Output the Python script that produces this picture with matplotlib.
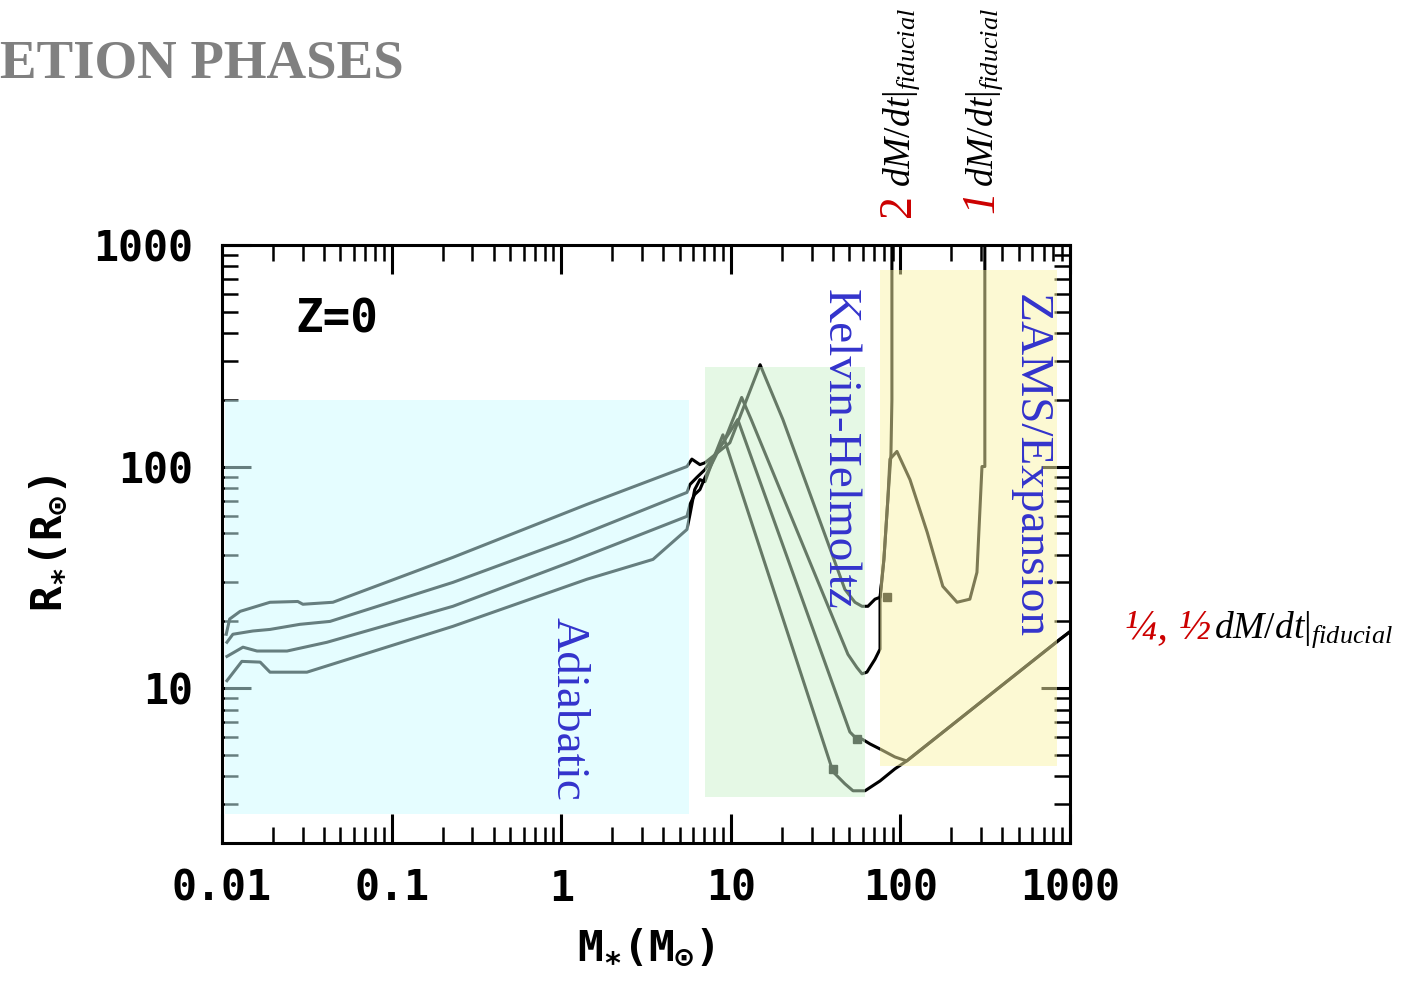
import matplotlib
matplotlib.use("Agg")
import matplotlib.pyplot as plt
from matplotlib.patches import Rectangle
from matplotlib.ticker import NullFormatter, LogLocator

plt.rcParams['font.family'] = 'DejaVu Sans Mono'
plt.rcParams['font.weight'] = 'bold'
plt.rcParams['mathtext.fontset'] = 'custom'
plt.rcParams['mathtext.bf'] = 'DejaVu Sans Mono:weight=bold'
plt.rcParams['mathtext.it'] = 'Liberation Serif:style=italic:weight=normal'
plt.rcParams['mathtext.rm'] = 'Liberation Serif:weight=normal'

# protostar tracks, mass (Msun) vs radius (Rsun)
m_2x = [0.0106, 0.0111, 0.0128, 0.0192, 0.0280, 0.0300, 0.0451, 0.230, 1.42, 5.52,
        5.9, 6.58, 7.05, 9.88, 14.9, 20.3, 47.1, 54.0, 59.4, 64.4, 70.9, 75.9,
        80.0, 84.4, 88.0, 89.2, 89.2]
r_2x = [17.5, 20.5, 22.2, 24.4, 24.6, 23.9, 24.4, 38.9, 67.5, 100,
        108, 102, 104, 128, 288, 163, 27.9, 24.4, 23.4, 23.4, 25.2, 25.7,
        38.1, 71.0, 113, 200, 2000]

m_1x = [0.0107, 0.0116, 0.0152, 0.0192, 0.0288, 0.0434, 0.230, 1.127, 5.52,
        5.75, 6.3, 7.05, 9.23, 11.6, 13.2, 49.1, 55.4, 59.4, 63.5, 70.9, 75.9,
        75.9, 80.0, 84.4, 86.8, 95.5, 114, 144, 178, 216, 257, 283, 303, 315, 315]
r_1x = [16.1, 17.5, 18.1, 18.4, 19.4, 20.0, 30.0, 46.9, 76.4,
        83.0, 89.2, 96.9, 132, 205, 163, 14.2, 12.4, 11.6, 11.8, 13.5, 15.0,
        25.2, 38.1, 71.0, 108, 117, 87.3, 50.5, 28.8, 24.4, 25.2, 33.3, 100, 100, 2000]

m_half = [0.0107, 0.0133, 0.0161, 0.0242, 0.0416, 0.230, 1.127, 5.52,
          5.75, 6.13, 6.58, 7.05, 8.64, 11.0, 11.4, 50.4, 55.4, 59.4, 66.2, 75.9, 92.9]
r_half = [13.9, 15.3, 14.7, 14.7, 16.1, 23.4, 37.0, 59.6,
          67.5, 74.8, 78.7, 89.2, 122, 163, 151, 6.34, 5.89, 5.89, 5.60, 5.31, 4.89]

m_quarter = [0.0107, 0.0131, 0.0168, 0.0192, 0.0317, 0.230, 1.42, 3.48, 5.52,
             5.75, 6.13, 6.58, 7.05, 8.07, 8.99, 40.1, 47.1, 52.6, 61.9, 75.9, 92.9]
r_quarter = [10.8, 13.2, 13.1, 11.8, 11.8, 19.0, 31.0, 38.1, 52.0,
             60.8, 78.7, 87.3, 85.5, 113, 139, 4.19, 3.70, 3.44, 3.44, 3.81, 4.32]

# ZAMS line shared by the two slow tracks
zams_m = [109, 873, 1100]
zams_r = [4.69, 16.6, 19.0]

dot_m = [83.4, 55.4, 40.1]
dot_r = [25.9, 5.89, 4.32]

# phase boxes: mass low/high, radius low/high
adiabatic_box = [0.0104, 5.68, 2.71, 200]
kh_box = [7.05, 61.9, 3.23, 282]
zams_box = [75.9, 838, 4.45, 771]

xticks = [0.01, 0.1, 1, 10, 100, 1000]
xlabels = ['0.01', '0.1', '1', '10', '100', '1000']
yticks = [10, 100, 1000]
ylabels = ['10', '100', '1000']

fig = plt.figure(figsize=(14.03, 9.81), dpi=100)
ax = fig.add_axes([0.1582, 0.1407, 0.6044, 0.6096])

for m, r in [(m_2x, r_2x), (m_1x, r_1x),
             (m_half + zams_m, r_half + zams_r),
             (m_quarter + zams_m, r_quarter + zams_r)]:
    ax.plot(m, r, color='k', lw=2.2, zorder=2)
ax.plot(dot_m, dot_r, 's', color='k', ms=6, zorder=2)

# translucent boxes over the tracks
for box, col in [(adiabatic_box, '#cdfdff'), (kh_box, '#cdf3cd'), (zams_box, '#fbf5a9')]:
    ax.add_patch(Rectangle((box[0], box[2]), box[1] - box[0], box[3] - box[2],
                           facecolor=col, edgecolor='none', alpha=0.5, zorder=3))

ax.set_xscale('log')
ax.set_yscale('log')
ax.set_xlim(0.01, 1000)
ax.set_ylim(2, 1000)
ax.set_xticks(xticks)
ax.set_xticklabels(xlabels)
ax.set_yticks(yticks)
ax.set_yticklabels(ylabels)
ax.xaxis.set_minor_locator(LogLocator(base=10, subs=range(2, 10), numticks=20))
ax.yaxis.set_minor_locator(LogLocator(base=10, subs=range(2, 10), numticks=20))
ax.xaxis.set_minor_formatter(NullFormatter())
ax.yaxis.set_minor_formatter(NullFormatter())

ax.tick_params(which='major', direction='in', length=21, width=2.2,
               top=True, right=True, labelsize=30)
ax.tick_params(axis='x', which='major', pad=18)
ax.tick_params(axis='y', which='major', pad=21)
ax.tick_params(which='minor', direction='in', length=11.5, width=1.8, top=True, right=True)
for s in ax.spines.values():
    s.set_linewidth(2.2)

ax.set_xlabel(r'$\mathbf{M_{\ast}(M_{\odot})}$', fontsize=31, labelpad=12)
ax.set_ylabel(r'$\mathbf{R_{\ast}(R_{\odot})}$', fontsize=31, labelpad=16)

ax.text(0.1356, 0.8746, 'Z=0', transform=ax.transAxes, fontsize=33,
        ha='center', va='center', zorder=5)

blue = '#3333cc'
ax.text(1.10, 8.03, 'Adiabatic', rotation=-90, ha='center', va='center',
        family='Liberation Serif', fontweight='normal', fontsize=34, color=blue, zorder=5)
ax.text(43.5, 120, 'Kelvin-Helmoltz', rotation=-90, ha='center', va='center',
        family='Liberation Serif', fontweight='normal', fontsize=34, color=blue, zorder=5)
ax.text(581, 100, 'ZAMS/Expansion', rotation=-90, ha='center', va='center',
        family='Liberation Serif', fontweight='normal', fontsize=34, color=blue, zorder=5)

W, H = 1403.0, 981.0
red = '#cc0000'
rate_txt = r'$dM/dt|_{fiducial}$'

fig.text(0, 1 - 78 / H, 'ETION PHASES', ha='left', va='baseline', color='#808080',
         family='Liberation Serif', fontweight='bold', fontsize=39.5)

fig.text(910 / W, 1 - 217 / H, '2', rotation=90, rotation_mode='anchor', ha='left',
         va='baseline', color=red, family='Liberation Serif', fontweight='normal', fontsize=33)
fig.text(910 / W, 1 - 187 / H, rate_txt, rotation=90, rotation_mode='anchor', ha='left',
         va='baseline', color='k', fontweight='normal', fontsize=27)
fig.text(993 / W, 1 - 213 / H, '1', rotation=90, rotation_mode='anchor', ha='left',
         va='baseline', color=red, family='Liberation Serif', fontweight='normal',
         fontstyle='italic', fontsize=33)
fig.text(993 / W, 1 - 187 / H, rate_txt, rotation=90, rotation_mode='anchor', ha='left',
         va='baseline', color='k', fontweight='normal', fontsize=27)

fig.text(1125 / W, 1 - 638 / H, '\u00bc, \u00bd', ha='left', va='baseline', color=red,
         family='Liberation Serif', fontweight='normal', fontstyle='italic', fontsize=31)
fig.text(1214 / W, 1 - 638 / H, rate_txt, ha='left', va='baseline', color='k',
         fontweight='normal', fontsize=27)

fig.savefig('out.png', dpi=100)
